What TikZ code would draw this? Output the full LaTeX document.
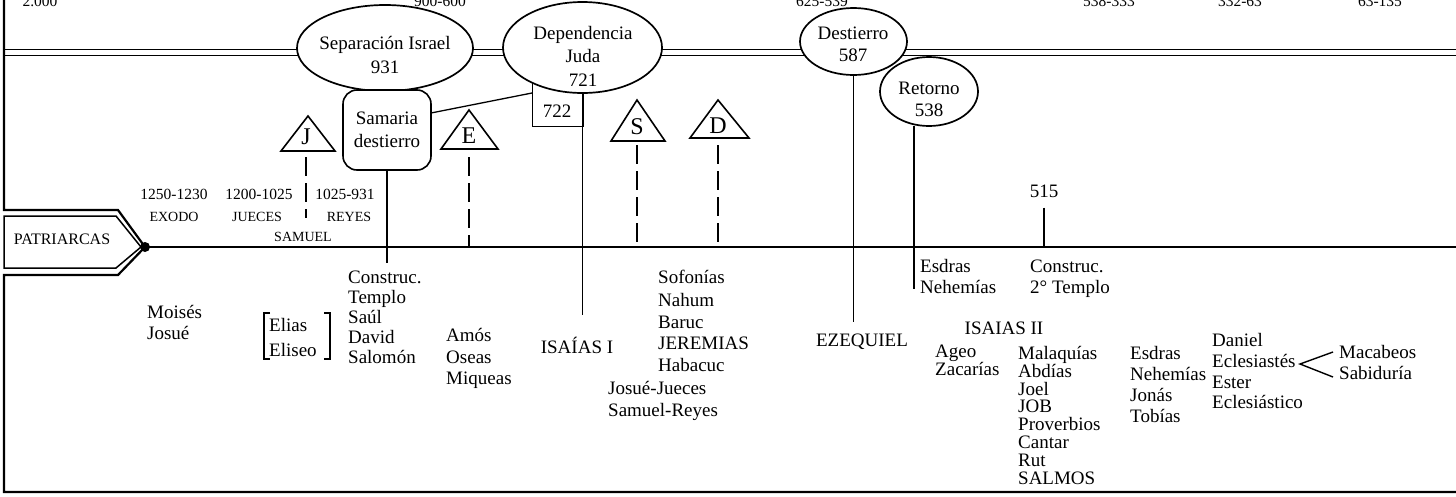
\documentclass[tikz,border=0pt]{standalone}
\usepackage{fontspec}
\setmainfont{Liberation Serif}
\usetikzlibrary{shapes.geometric}
\begin{document}
\begin{tikzpicture}[x=1pt,y=-1pt,
  every node/.style={inner sep=0pt, font=\fontsize{19}{23}\selectfont},
  oval/.style={draw, line width=1.7pt, ellipse, fill=white, inner sep=0pt},
  txt/.style={anchor=base west},
  ctxt/.style={anchor=base},
  datef/.style={font=\fontsize{15.5}{16}\selectfont},
  capf/.style={font=\fontsize{14}{14}\selectfont},
  letf/.style={font=\fontsize{24}{24}\selectfont},
  thin/.style={line width=1.3pt},
  frame/.style={line width=2.2pt},
  dashline/.style={line width=2.5pt, dash pattern=on 19pt off 7pt},
  tri/.style={line width=1.6pt, line join=miter}
]
\useasboundingbox (0,0) rectangle (1456,496);

% top date labels (cut by the border, as in the source)
\node[ctxt, datef] (d1) at (40,6.5) {2.000};
\node[ctxt, datef] (d2) at (440,6.5) {900-600};
\node[ctxt, datef] (d3) at (822,6.5) {625-539};
\node[ctxt, datef] (d4) at (1109,6.5) {538-333};
\node[ctxt, datef] (d5) at (1240,6.5) {332-63};
\node[ctxt, datef] (d6) at (1380,6.5) {63-135};

% double line at top
\draw[line width=1.4pt] (4,49.5) -- (1456,49.5);
\draw[line width=1.4pt] (4,55.5) -- (1456,55.5);

% frame and PATRIARCAS arrow
\coordinate (tip) at (145,247);
\coordinate (tlend) at (1456,247);
\draw[frame] (4,0) -- (4,210) -- (118,210) -- (tip);
\draw[frame] (tip) -- (118,275) -- (4,275) -- (4,492) -- (1456,492);
\draw[line width=1.5pt] (4,216) -- (116,216) -- (141,247) -- (116,268) -- (4,268) -- cycle;
\node[font=\fontsize{16}{16}\selectfont] (patr) at (62,239) {PATRIARCAS};

% main timeline
\draw[line width=2.6pt] (tip) -- (tlend);
\fill (tip) circle (5pt);

% 722 box (top hidden by ellipse)
\node[draw, thin, minimum width=51pt, minimum height=50pt, anchor=south west] (b722) at (532,127) {};
\node (t722) at (557,111) {722};

% ellipses
\node[oval, minimum width=176pt, minimum height=86pt] (sep) at (385,48) {};
\node[align=center, font=\fontsize{19}{24}\selectfont] (sept) at (385,55) {Separación Israel\\931};
\node[oval, minimum width=159pt, minimum height=91pt] (dep) at (582.5,47.5) {};
\node[align=center, font=\fontsize{19}{23.5}\selectfont] (dept) at (583,56) {Dependencia\\Juda\\721};
\node[oval, minimum width=107pt, minimum height=67pt] (des) at (853.5,41.5) {};
\node[align=center, font=\fontsize{19}{22}\selectfont] (dest) at (853,44) {Destierro\\587};
\node[oval, minimum width=98pt, minimum height=69pt] (ret) at (929,91.5) {};
\node[align=center, font=\fontsize{19}{22}\selectfont] (rett) at (929,99) {Retorno\\538};

% Samaria box
\node[draw, line width=1.6pt, rounded corners=14pt, fill=white, minimum width=88pt, minimum height=80pt, align=center, font=\fontsize{19}{23}\selectfont] (sam) at (387,130) {Samaria\\destierro};
\coordinate (samr) at (431,113);
\coordinate (b722l) at (532,93);
\draw[thin] (samr) -- (b722l);

% vertical connectors
\coordinate (samend) at (387,263);
\draw[thin] (sam.south) -- (samend);
\coordinate (isaend) at (582.5,315);
\draw[thin] (dep.south) -- (isaend);
\coordinate (ezeend) at (853.5,322);
\draw[thin] (des.south) -- (ezeend);
\coordinate (retline) at (914,126);
\coordinate (retend) at (914,289);
\draw[thin] (retline) -- (retend);
\node[font=\fontsize{19}{19}\selectfont] (n515) at (1044,191) {515};
\coordinate (l515) at (1044,247);
\draw[line width=1.5pt] (n515.south) ++(0,10) -- (l515);

% triangles with letters
\draw[tri] (281,151) -- (308,116) -- (335,151) -- cycle;
\node[letf] (tJ) at (306,137) {J};
\draw[tri] (441,149) -- (469,110) -- (498,149) -- cycle;
\node[letf] (tE) at (469,136) {E};
\draw[tri] (611,141) -- (637,100) -- (665,141) -- cycle;
\node[letf] (tS) at (637,127) {S};
\draw[tri] (690,138) -- (718,100) -- (749,138) -- cycle;
\node[letf] (tD) at (718,126) {D};

\coordinate (j1) at (306,157); \coordinate (j2) at (306,218);
\coordinate (e1) at (469,157); \coordinate (e2) at (469,247);
\coordinate (s1) at (637,145); \coordinate (s2) at (637,242);
\coordinate (dd1) at (718,145); \coordinate (dd2) at (718,242);
\draw[dashline] (j1) -- (j2);
\draw[dashline] (e1) -- (e2);
\draw[dashline] (s1) -- (s2);
\draw[dashline] (dd1) -- (dd2);

% labels above timeline
\node[ctxt, datef] (y1) at (174,199) {1250-1230};
\node[ctxt, capf] (x1) at (174,221) {EXODO};
\node[ctxt, datef] (y2) at (259,199) {1200-1025};
\node[ctxt, capf] (x2) at (257,221) {JUECES};
\node[ctxt, datef] (y3) at (345,199) {1025-931};
\node[ctxt, capf] (x3) at (349,221) {REYES};
\node[ctxt, capf] (x4) at (303,241) {SAMUEL};

% lower texts
\node[txt] (m1) at (147,318) {Moisés};
\node[txt] (m2) at (147,339) {Josué};

\node[txt] (el1) at (269,331) {Elias};
\node[txt] (el2) at (269,356) {Eliseo};
\draw[line width=1.2pt] (270,313) -- (264,313) -- (264,359) -- (270,359);
\draw[line width=1.2pt] (324,313) -- (330,313) -- (330,359) -- (324,359);

\node[txt] (c1) at (348,283) {Construc.};
\node[txt] (c2) at (348,303) {Templo};
\node[txt] (c3) at (348,323) {Saúl};
\node[txt] (c4) at (348,343) {David};
\node[txt] (c5) at (348,363) {Salomón};

\node[txt] (a1) at (446,341) {Amós};
\node[txt] (a2) at (446,363) {Oseas};
\node[txt] (a3) at (446,384) {Miqueas};

\node[ctxt] (isa1) at (577,353) {ISAÍAS I};

\node[txt] (s01) at (658,283) {Sofonías};
\node[txt] (s02) at (658,306) {Nahum};
\node[txt] (s03) at (658,328) {Baruc};
\node[txt] (s04) at (658,349) {JEREMIAS};
\node[txt] (s05) at (658,371) {Habacuc};
\node[txt] (s06) at (608,394) {Josué-Jueces};
\node[txt] (s07) at (608,416) {Samuel-Reyes};

\node[ctxt] (eze) at (862,346) {EZEQUIEL};

\node[txt] (r1) at (920,272) {Esdras};
\node[txt] (r2) at (920,293) {Nehemías};
\node[txt] (r3) at (1030,272) {Construc.};
\node[txt] (r4) at (1030,293) {2° Templo};

\node[ctxt] (isa2) at (1004,334) {ISAIAS II};
\node[txt] (ag1) at (935,357) {Ageo};
\node[txt] (ag2) at (935,375) {Zacarías};

\node[txt] (k1) at (1018,359) {Malaquías};
\node[txt] (k2) at (1018,377) {Abdías};
\node[txt] (k3) at (1018,395) {Joel};
\node[txt] (k4) at (1018,412) {JOB};
\node[txt] (k5) at (1018,430) {Proverbios};
\node[txt] (k6) at (1018,448) {Cantar};
\node[txt] (k7) at (1018,466) {Rut};
\node[txt] (k8) at (1018,484) {SALMOS};

\node[txt] (n1) at (1130,359) {Esdras};
\node[txt] (n2) at (1130,380) {Nehemías};
\node[txt] (n3) at (1130,401) {Jonás};
\node[txt] (n4) at (1130,422) {Tobías};

\node[txt] (q1) at (1212,346) {Daniel};
\node[txt] (q2) at (1212,367) {Eclesiastés};
\node[txt] (q3) at (1212,388) {Ester};
\node[txt] (q4) at (1212,408) {Eclesiástico};

\node[txt] (mac) at (1339,358) {Macabeos};
\node[txt] (sab) at (1339,379) {Sabiduría};
\coordinate (fork) at (1300,364);
\coordinate (forku) at (1333,352);
\coordinate (forkd) at (1333,377);
\draw[line width=1.4pt] (forku) -- (fork) -- (forkd);
\end{tikzpicture}
\end{document}
